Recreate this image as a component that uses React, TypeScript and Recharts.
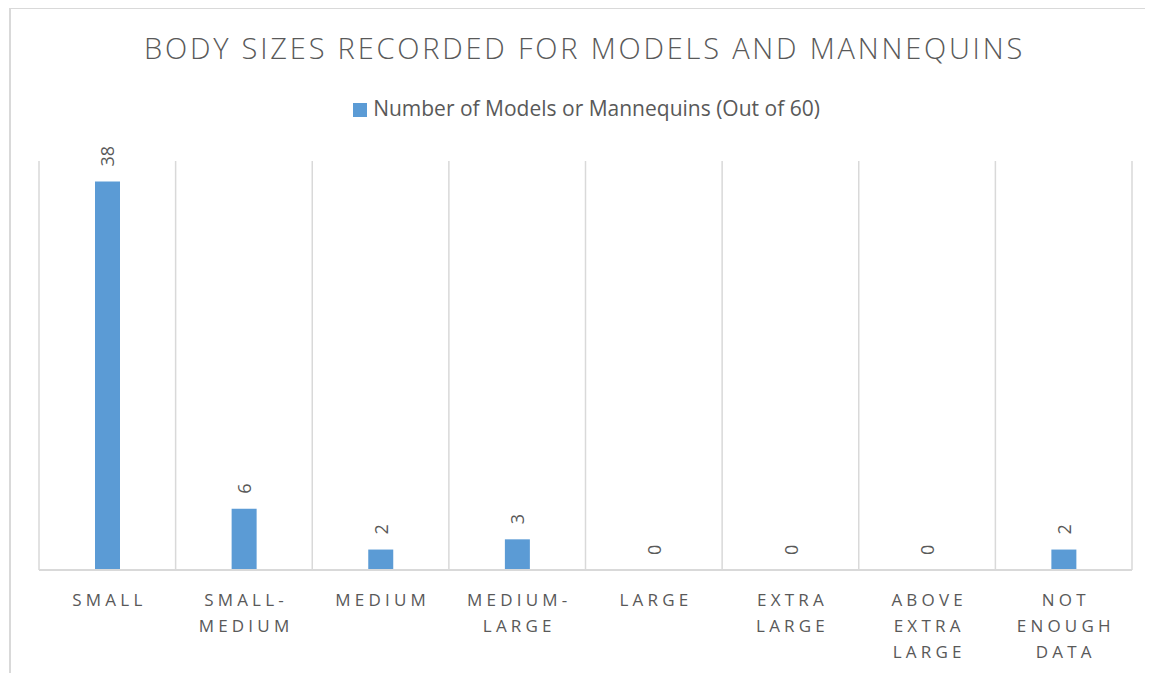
import React from "react";
import { BarChart, Bar, XAxis, YAxis, CartesianGrid, LabelList } from "recharts";

const categories = [
  "Small",
  "Small-Medium",
  "Medium",
  "Medium-Large",
  "Large",
  "Extra Large",
  "Above Extra Large",
  "Not Enough Data",
];
const counts = [38, 6, 2, 3, 0, 0, 0, 2];
const tickLines = [
  ["SMALL"],
  ["SMALL-", "MEDIUM"],
  ["MEDIUM"],
  ["MEDIUM-", "LARGE"],
  ["LARGE"],
  ["EXTRA", "LARGE"],
  ["ABOVE", "EXTRA", "LARGE"],
  ["NOT", "ENOUGH", "DATA"],
];
const seriesName = "Number of Models or Mannequins (Out of 60)";
const title = "BODY SIZES RECORDED FOR MODELS AND MANNEQUINS";

const data = categories.map((c, i) => ({ name: c, value: counts[i] }));

const TEXT = "#595959";
const GRID = "#d9d9d9";
const BLUE = "#5b9bd5";
const FONT = "'Open Sans', Lato, sans-serif";

const CatTick = (props: any) => {
  const { x, y, index } = props;
  const lines = tickLines[index] || [];
  return (
    <text
      x={x}
      y={y}
      textAnchor="middle"
      fill={TEXT}
      fontFamily={FONT}
      fontSize={17}
      letterSpacing={4.2}
    >
      {lines.map((l, i) => (
        <tspan key={i} x={x + 2.1} y={y + 28 + i * 26}>
          {l}
        </tspan>
      ))}
    </text>
  );
};

const ValueLabel = (props: any) => {
  const { x, y, width, value } = props;
  const cx = Number(x) + Number(width) / 2;
  const ty = Number(y) - 15;
  return (
    <text
      x={cx}
      y={ty}
      transform={`rotate(-90, ${cx}, ${ty})`}
      textAnchor="start"
      dominantBaseline="central"
      fill={TEXT}
      fontFamily={FONT}
      fontSize={18}
    >
      {String(value)}
    </text>
  );
};

const gridGen = (args: any) => {
  const off = args && args.offset;
  const left = off ? off.left : 31;
  const w = off ? off.width : 1093;
  return categories.map((_, i) => left + (i * w) / categories.length).concat([left + w]);
};

export default function App() {
  return (
    <div
      style={{
        position: "relative",
        marginTop: -1,
        width: 1145,
        height: 666,
        overflow: "hidden",
        background: "#fff",
      }}
    >
      <div
        style={{
          position: "absolute",
          left: 1,
          top: 0,
          width: 1400,
          height: 900,
          border: `2px solid ${GRID}`,
          boxSizing: "border-box",
        }}
      />
      <div
        style={{
          position: "absolute",
          left: 4,
          top: 26,
          width: 1145,
          textAlign: "center",
          fontFamily: FONT,
          fontSize: 29,
          fontWeight: 300,
          lineHeight: "29px",
          letterSpacing: 2.8,
          color: TEXT,
          whiteSpace: "nowrap",
        }}
      >
        {title}
      </div>
      <div
        style={{
          position: "absolute",
          left: 6,
          top: 91,
          width: 1145,
          display: "flex",
          justifyContent: "center",
          alignItems: "center",
          fontFamily: FONT,
          fontSize: 21,
          lineHeight: "21px",
          color: TEXT,
          whiteSpace: "nowrap",
        }}
      >
        <span
          style={{
            display: "inline-block",
            width: 14,
            height: 14,
            background: BLUE,
            marginRight: 6,
            marginTop: 2,
          }}
        />
        <span>{seriesName}</span>
      </div>
      <div style={{ position: "absolute", left: 0, top: 0 }}>
        <BarChart
          width={1145}
          height={666}
          data={data}
          margin={{ top: 154, right: 21, bottom: 3, left: 31 }}
        >
          <CartesianGrid
            vertical={true}
            horizontal={false}
            stroke={GRID}
            strokeWidth={1.5}
            verticalCoordinatesGenerator={gridGen}
          />
          <XAxis
            dataKey="name"
            height={100}
            interval={0}
            tickLine={false}
            axisLine={{ stroke: GRID, strokeWidth: 2 }}
            tick={<CatTick />}
          />
          <YAxis hide domain={[0, 40]} ticks={[0, 10, 20, 30, 40]} />
          <Bar
            dataKey="value"
            name={seriesName}
            fill={BLUE}
            barSize={25}
            minPointSize={0.01}
            isAnimationActive={false}
          >
            <LabelList dataKey="value" content={<ValueLabel />} />
          </Bar>
        </BarChart>
      </div>
    </div>
  );
}
